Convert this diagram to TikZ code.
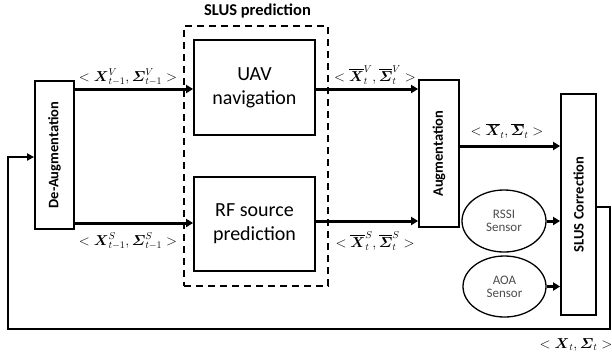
\documentclass[tikz,border=0pt]{standalone}
\usepackage{amsmath}
\usepackage[no-math]{fontspec}
\setmainfont{Carlito}
\usetikzlibrary{arrows.meta,shapes.geometric}
\newcommand{\bx}{\boldsymbol{X}}
\newcommand{\bs}{\boldsymbol{\varSigma}}
\begin{document}
\begin{tikzpicture}[x=1pt,y=-1pt,
  blk/.style={draw,line width=1.8pt,inner sep=0pt},
  vtext/.style={rotate=90,font=\fontsize{14.5}{16}\selectfont\bfseries},
  bigtext/.style={align=center,font=\fontsize{20}{24}\selectfont},
  sensor/.style={draw,ellipse,line width=1.3pt,inner sep=0pt,align=center,
    text=black!70,font=\fontsize{13}{13}\selectfont},
  flow/.style={line width=3pt,-{Triangle[length=7pt,width=8pt]}},
  loopline/.style={line width=2.2pt,-{Triangle[length=7pt,width=7pt]}},
  lbl/.style={font=\fontsize{14.5}{16}\selectfont,inner sep=0pt}]
\useasboundingbox (0,0) rectangle (612,360);

% prediction group
\node[draw,dashed,line width=1.8pt,dash pattern=on 7pt off 5pt,
  minimum width=144pt,minimum height=260pt] (pred) at (256,156) {};
\node[font=\fontsize{16.5}{18}\selectfont\bfseries] (predtitle) at (257.5,11) {SLUS prediction};

% blocks
\node[blk,minimum width=39pt,minimum height=148pt] (deaug) at (54.5,155) {};
\node[vtext] (deaugtext) at (deaug) {De-Augmentation};
\node[blk,bigtext,minimum width=121pt,minimum height=95pt] (uav) at (254.5,87.5) {UAV\\navigation};
\node[blk,bigtext,minimum width=121pt,minimum height=94pt] (rf) at (254.5,224) {RF source\\prediction};
\node[blk,minimum width=40pt,minimum height=147pt] (aug) at (439,153.5) {};
\node[vtext] (augtext) at (aug) {Augmentation};
\node[blk,minimum width=35pt,minimum height=221pt] (corr) at (578.5,204.5) {};
\node[vtext] (corrtext) at (corr) {SLUS Correction};

% sensors
\node[sensor,minimum width=84pt,minimum height=62pt] (rssi) at (504,221) {RSSI\\Sensor};
\node[sensor,minimum width=83pt,minimum height=61pt] (aoa) at (504.5,286.5) {AOA\\Sensor};

% main flow
\draw[flow] (deaug.east |- 0,89) -- (uav.west |- 0,89);
\draw[flow] (deaug.east |- 0,223) -- (rf.west |- 0,223);
\draw[flow] (uav.east |- 0,89) -- (aug.west |- 0,89);
\draw[flow] (rf.east |- 0,221) -- (aug.west |- 0,221);
\draw[flow] (aug.east |- 0,146) -- (corr.west |- 0,146);
\draw[flow] (rssi.east) -- (corr.west |- rssi.east);
\draw[flow] (aoa.east) -- (corr.west |- aoa.east);

% feedback loop
\coordinate (fbA) at (610,207);
\coordinate (fbB) at (610,329);
\coordinate (fbC) at (8,329);
\coordinate (fbD) at (8,157);
\draw[loopline] (corr.east |- fbA) -- (fbA) -- (fbB) -- (fbC) -- (fbD) -- (deaug.west |- fbD);

% state labels
\node[lbl] (lv1) at (128,77) {$<\bx^{V}_{t-1},\bs^{V}_{t-1}>$};
\node[lbl] (ls1) at (128,241) {$<\bx^{S}_{t-1},\bs^{S}_{t-1}>$};
\node[lbl] (lv2) at (375,75) {$<\overline{\bx}^{V}_{t},\overline{\bs}^{V}_{t}>$};
\node[lbl] (ls2) at (375,241) {$<\overline{\bx}^{S}_{t},\overline{\bs}^{S}_{t}>$};
\node[lbl] (lbar) at (507,131) {$<\overline{\bx}_{t},\overline{\bs}_{t}>$};
\node[lbl] (lfb) at (576,345) {$<\bx_{t},\bs_{t}>$};
\end{tikzpicture}
\end{document}
